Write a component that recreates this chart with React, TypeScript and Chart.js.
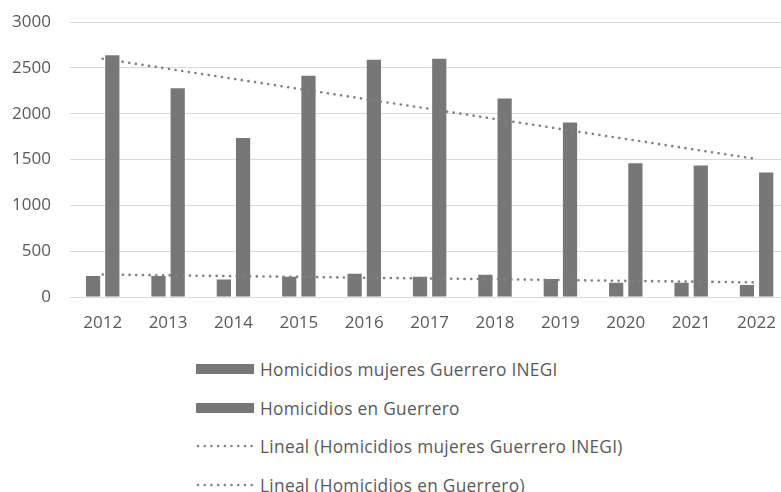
import React, { useEffect, useRef } from "react";
import { Chart, registerables } from "chart.js";

Chart.register(...registerables);

const years = ["2012", "2013", "2014", "2015", "2016", "2017", "2018", "2019", "2020", "2021", "2022"];
const mujeres = [228, 228, 192, 221, 253, 221, 242, 196, 156, 156, 130];
const guerrero = [2638, 2279, 1736, 2416, 2591, 2601, 2166, 1906, 1460, 1435, 1359];
const labelMujeres = "Homicidios mujeres Guerrero INEGI";
const labelGuerrero = "Homicidios en Guerrero";
const labelTrendMujeres = "Lineal (Homicidios mujeres Guerrero INEGI)";
const labelTrendGuerrero = "Lineal (Homicidios en Guerrero)";

// Linear trendline (least squares), as Excel's "Lineal" trendline
function trend(values: number[]): number[] {
  const n = values.length;
  const mx = (n - 1) / 2;
  const my = values.reduce((a, b) => a + b, 0) / n;
  let sxy = 0;
  let sxx = 0;
  values.forEach((v, i) => {
    sxy += (i - mx) * (v - my);
    sxx += (i - mx) * (i - mx);
  });
  const slope = sxy / sxx;
  return values.map((_, i) => my + slope * (i - mx));
}

const BAR = "#777777";
const DOT = "#7f7f7f";
const TEXT = "#595959";
const GRID = "#d9d9d9";
const FONT = "'Open Sans', sans-serif";

export default function App() {
  const ref = useRef<HTMLCanvasElement | null>(null);

  useEffect(() => {
    if (!ref.current) return;
    const chart = new Chart(ref.current, {
      type: "bar",
      data: {
        labels: years,
        datasets: [
          {
            type: "line",
            label: labelTrendMujeres,
            data: trend(mujeres),
            borderColor: DOT,
            borderWidth: 2.6,
            borderDash: [0.1, 6.6],
            borderCapStyle: "round",
            pointRadius: 0,
            fill: false,
            order: 0,
          } as any,
          {
            type: "line",
            label: labelTrendGuerrero,
            data: trend(guerrero),
            borderColor: DOT,
            borderWidth: 2.6,
            borderDash: [0.1, 6.6],
            borderCapStyle: "round",
            pointRadius: 0,
            fill: false,
            order: 0,
          } as any,
          {
            label: labelMujeres,
            data: mujeres,
            backgroundColor: BAR,
            categoryPercentage: 0.588,
            barPercentage: 0.74,
            order: 1,
          },
          {
            label: labelGuerrero,
            data: guerrero,
            backgroundColor: BAR,
            categoryPercentage: 0.588,
            barPercentage: 0.74,
            order: 1,
          },
        ],
      },
      options: {
        animation: false,
        responsive: false,
        maintainAspectRatio: false,
        layout: { padding: { top: 3, right: 0, left: 0, bottom: 0 } },
        plugins: {
          legend: { display: false },
          tooltip: { enabled: false },
        },
        scales: {
          x: {
            offset: true,
            grid: { display: false, drawTicks: false },
            border: { display: true, color: GRID, width: 1 },
            ticks: {
              color: TEXT,
              font: { family: FONT, size: 17 },
              padding: 16,
              maxRotation: 0,
            },
            afterFit: (s: any) => {
              s.height = 48;
            },
          },
          y: {
            min: 0,
            max: 3000,
            grid: { color: GRID, lineWidth: 1, drawTicks: false },
            border: { display: false },
            ticks: {
              stepSize: 500,
              color: TEXT,
              font: { family: FONT, size: 17 },
              padding: 19,
              callback: (v: any) => String(v),
            },
            afterFit: (s: any) => {
              s.width = 70;
            },
          },
        },
      },
    });
    return () => chart.destroy();
  }, []);

  const rowTops = [369, 408, 446, 485];
  const rowStyle = (y: number): React.CSSProperties => ({
    position: "absolute",
    left: 196,
    top: y - 12,
    height: 24,
    display: "flex",
    alignItems: "center",
    whiteSpace: "nowrap",
    fontFamily: FONT,
    fontSize: 17.3,
    letterSpacing: 0.3,
    color: TEXT,
  });
  const box = <span style={{ display: "inline-block", width: 58, height: 10, background: BAR, marginRight: 6 }} />;
  const dots = (
    <svg width={58} height={6} style={{ marginRight: 6, display: "block" }}>
      <line x1={2} y1={3} x2={57} y2={3} stroke={DOT} strokeWidth={2.4} strokeDasharray="0.1 6.6" strokeLinecap="round" />
    </svg>
  );

  return (
    <div style={{ position: "fixed", left: 0, top: 0, width: 781, height: 492, overflow: "hidden", background: "#fff" }}>
      <canvas ref={ref} width={792} height={352} style={{ position: "absolute", left: 0, top: -7, width: 792, height: 352 }} />
      <div style={rowStyle(rowTops[0])}>{box}<span>{labelMujeres}</span></div>
      <div style={rowStyle(rowTops[1])}>{box}<span>{labelGuerrero}</span></div>
      <div style={rowStyle(rowTops[2])}>{dots}<span>{labelTrendMujeres}</span></div>
      <div style={rowStyle(rowTops[3])}>{dots}<span>{labelTrendGuerrero}</span></div>
    </div>
  );
}
